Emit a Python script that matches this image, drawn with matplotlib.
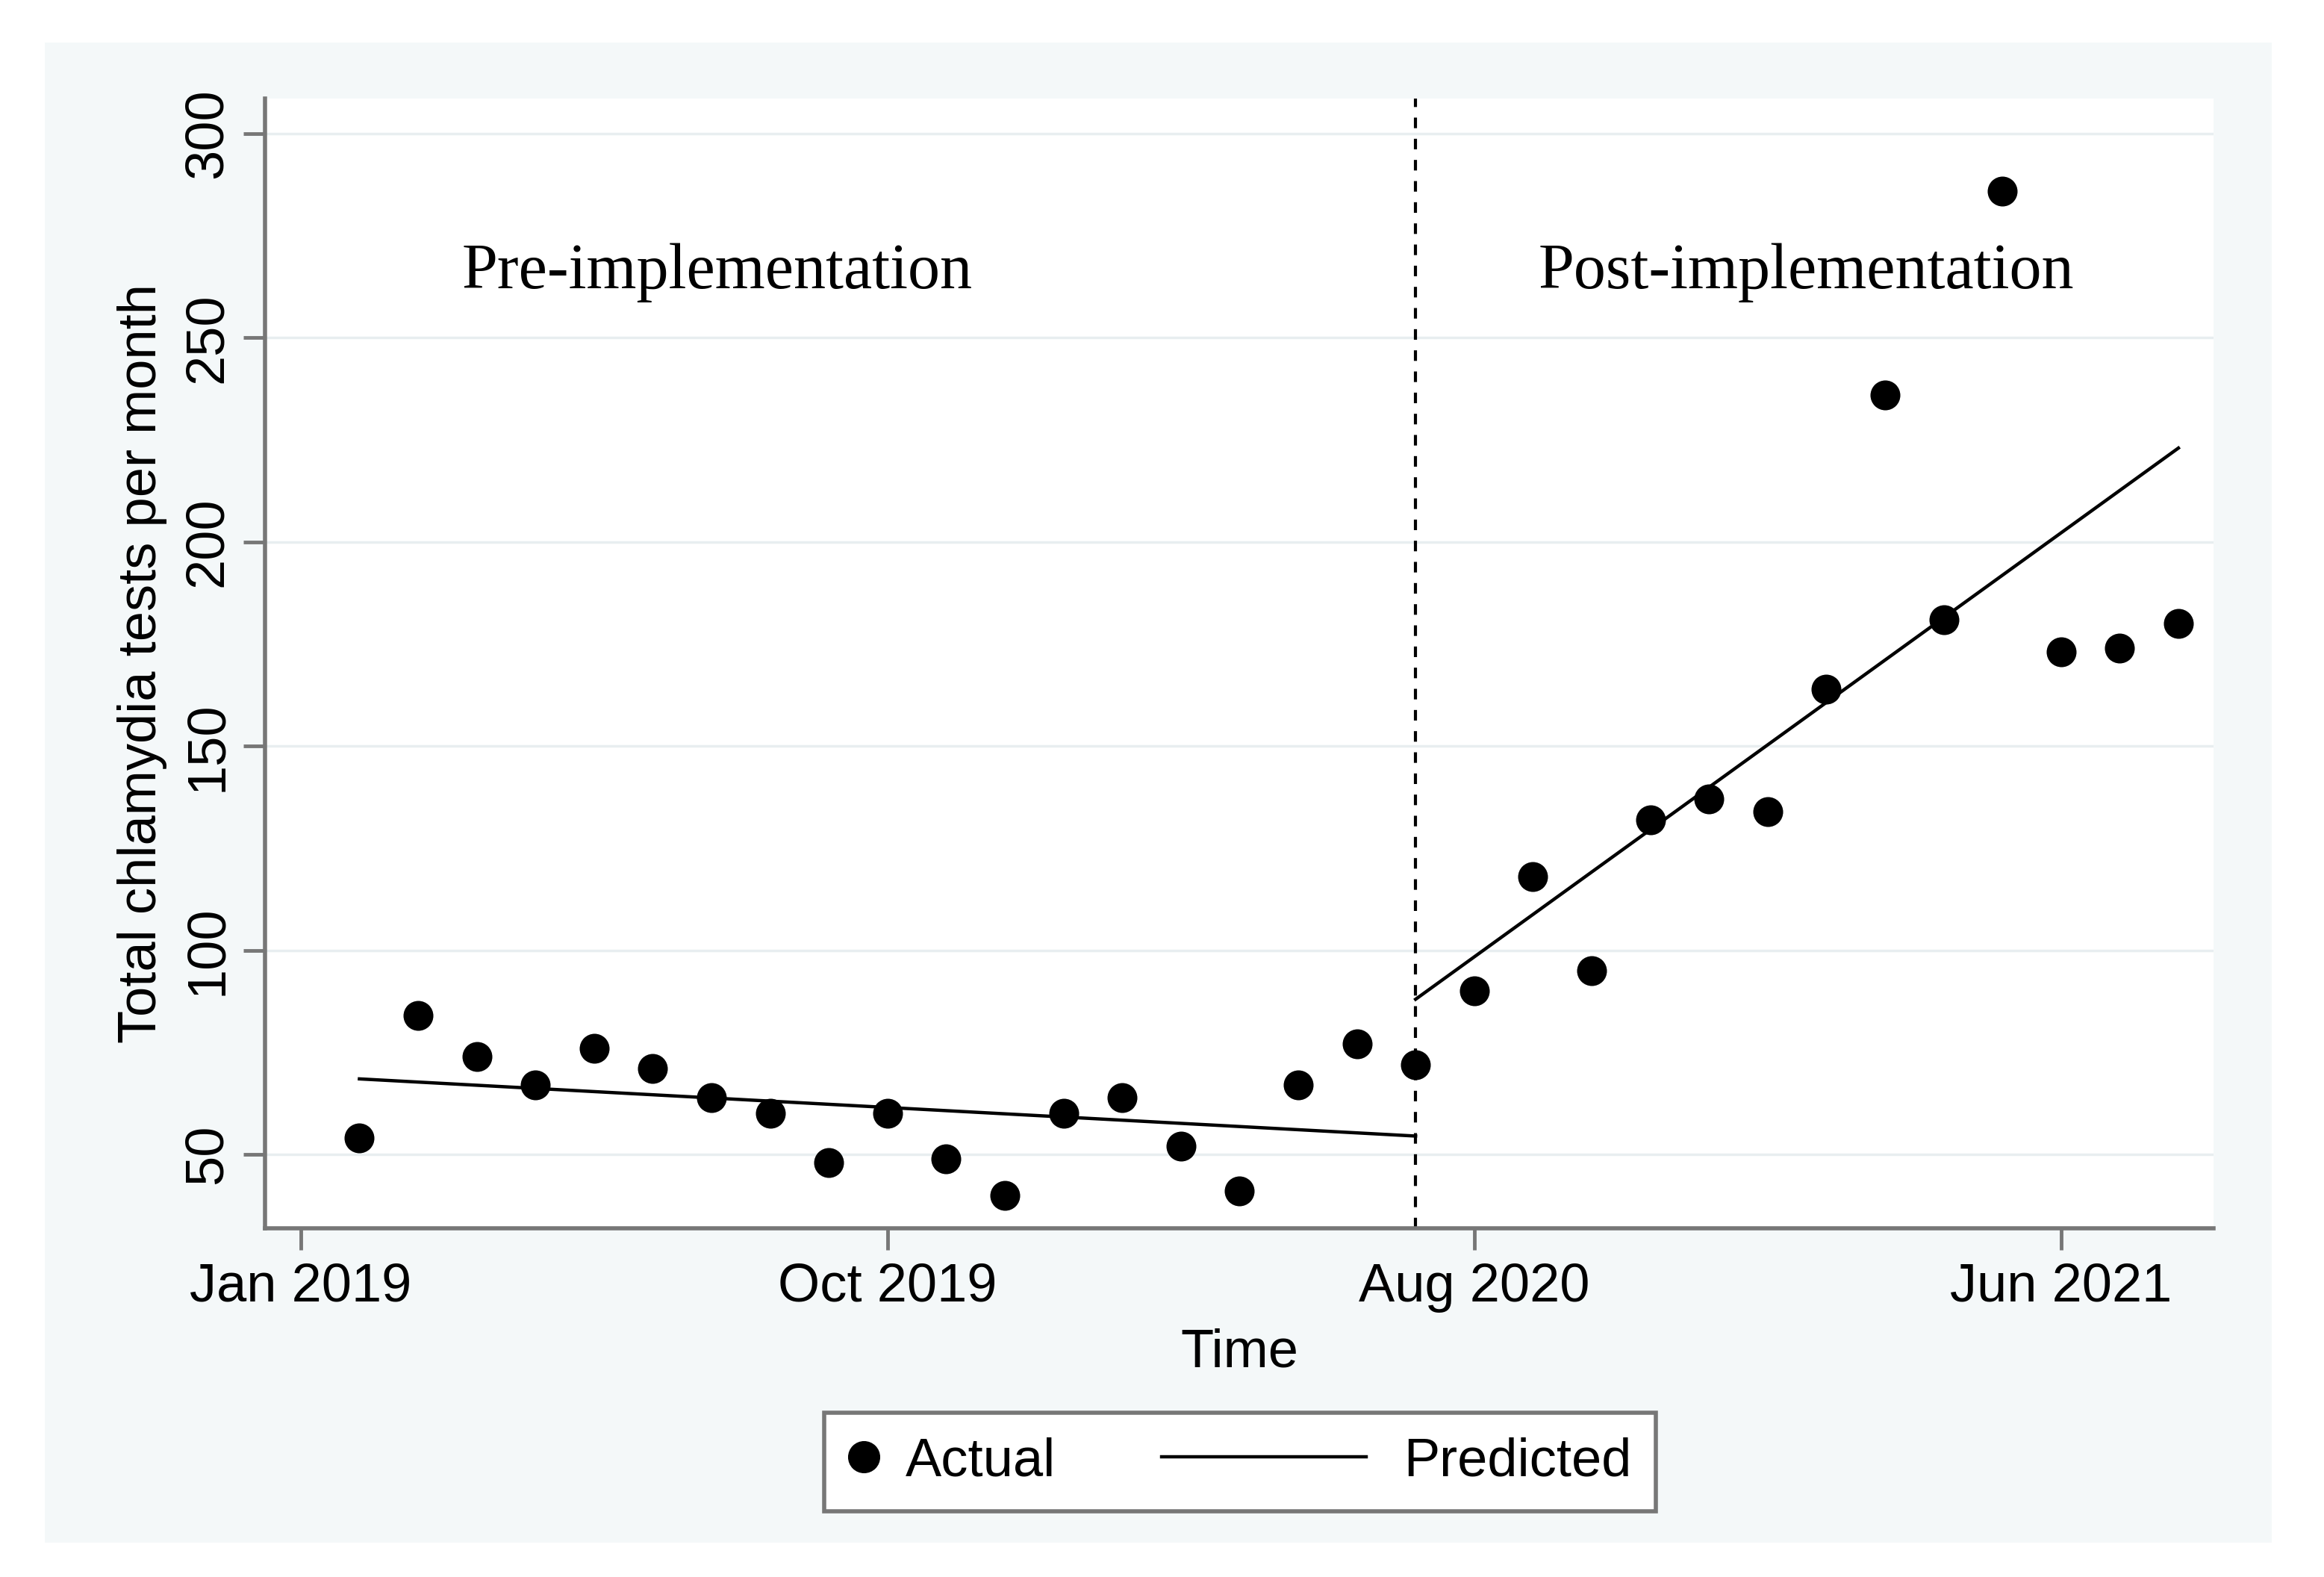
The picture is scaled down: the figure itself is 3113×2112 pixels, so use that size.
import numpy as np
import matplotlib
matplotlib.use("Agg")
import matplotlib.pyplot as plt
from matplotlib.patches import Rectangle
from matplotlib.lines import Line2D
from matplotlib.legend_handler import HandlerLine2D

plt.rcParams['font.family'] = ['Liberation Sans', 'DejaVu Sans']

# Monthly index (1..32), ticks every 10 months
month_idx = list(range(1, 33))
actual = [54, 84, 74, 67, 76, 71, 64, 60, 48, 60, 49, 40, 60, 64, 52, 41,
          67, 77, 72, 90, 118, 95, 132, 137, 134, 164, 236, 181, 286, 173,
          174, 180]

# Segmented regression fit (start/end of each segment)
pred_pre_x = [1, 19]
pred_pre_y = [68.5, 54.5]
pred_post_x = [19, 32]
pred_post_y = [88, 223]

implementation_idx = 19

xtick_pos = [0, 10, 20, 30]
xtick_labels = ['Jan 2019', 'Oct 2019', 'Aug 2020', 'Jun 2021']
ytick_pos = [50, 100, 150, 200, 250, 300]

axis_grey = '#777777'
panel_bg = '#f4f8f9'


class LongLineHandler(HandlerLine2D):
    # draw the legend line longer than the handle box, extending to the left
    def get_xdata(self, legend, xdescent, ydescent, width, height, fontsize):
        x1 = width - xdescent - 0.19 * fontsize
        x = np.array([x1 - 3.8 * fontsize, x1])
        return x, x


fig = plt.figure(figsize=(31.13, 21.12), dpi=100)
fig.patch.set_facecolor('white')
fig.patches.append(Rectangle((0.0193, 0.0218), 0.9582, 0.9512,
                             transform=fig.transFigure, facecolor=panel_bg,
                             edgecolor='none', zorder=-10))

ax = fig.add_axes([0.1140, 0.2211, 0.8385, 0.7164])
ax.set_facecolor('white')

ax.scatter(month_idx, actual, s=830, color='black', zorder=3, linewidths=0)
ax.plot(pred_pre_x, pred_pre_y, color='black', lw=3.2, zorder=2)
ax.plot(pred_post_x, pred_post_y, color='black', lw=3.2, zorder=2)
ax.axvline(implementation_idx, color='black', lw=3, linestyle=(0, (3.4, 3.4)), zorder=2)

ax.text(7.1, 266, 'Pre-implementation', family='Liberation Serif', fontsize=62,
        ha='center', va='center')
ax.text(25.66, 266, 'Post-implementation', family='Liberation Serif', fontsize=62,
        ha='center', va='center')

ax.set_xlim(-0.61, 32.6)
ax.set_ylim(31.9, 308.6)
ax.set_xticks(xtick_pos)
ax.set_xticklabels(xtick_labels)
ax.set_yticks(ytick_pos)
ax.set_yticklabels([str(v) for v in ytick_pos], rotation=90, va='center')

ax.grid(axis='y', color='#e8eef0', lw=2.5)
ax.set_axisbelow(True)

for s in ['top', 'right']:
    ax.spines[s].set_visible(False)
for s in ['left', 'bottom']:
    ax.spines[s].set_color(axis_grey)
    ax.spines[s].set_linewidth(4)

ax.tick_params(axis='both', direction='out', length=21, width=3.5,
               color=axis_grey, labelsize=52, labelcolor='black')
ax.tick_params(axis='x', pad=12)
ax.tick_params(axis='y', pad=10)

ax.set_xlabel('Time', fontsize=52)
ax.xaxis.set_label_coords(0.5, -0.088)
ax.set_ylabel('Total chlamydia tests per month', fontsize=52)
ax.yaxis.set_label_coords(-0.050, 0.5)

h_actual = Line2D([], [], marker='o', color='black', linestyle='none',
                  markersize=30)
h_pred = Line2D([], [], color='black', lw=3.2)
leg = fig.legend([h_actual, h_pred], ['Actual', 'Predicted'], ncol=2,
                 loc='center', bbox_to_anchor=(0.5336, 0.0729),
                 fontsize=52, handlelength=0.55, handletextpad=0.5,
                 columnspacing=5.4, borderpad=0.45, borderaxespad=0,
                 fancybox=False,
                 handler_map={h_pred: LongLineHandler()})
leg.get_frame().set_edgecolor(axis_grey)
leg.get_frame().set_linewidth(4)
leg.get_frame().set_facecolor('white')
leg.get_frame().set_alpha(1)

fig.savefig('out.png', dpi=100)
